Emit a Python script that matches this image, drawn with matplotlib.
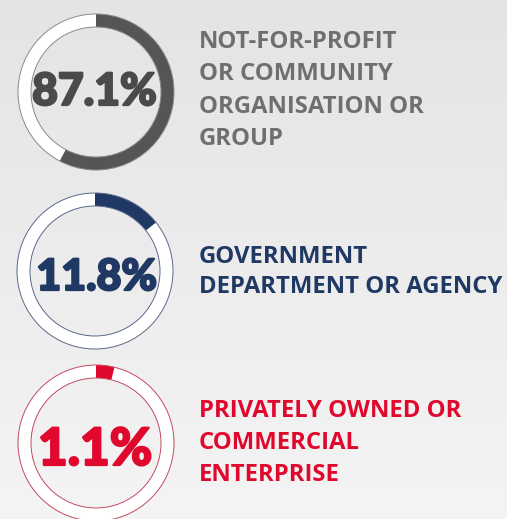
import numpy as np
import matplotlib
matplotlib.use("Agg")
import matplotlib.pyplot as plt
import matplotlib.patheffects as pe
from matplotlib.patches import Wedge, Circle
from matplotlib.colors import LinearSegmentedColormap

# ---- data ----
categories = ["NOT-FOR-PROFIT\nOR COMMUNITY\nORGANISATION OR\nGROUP",
              "GOVERNMENT\nDEPARTMENT OR AGENCY",
              "PRIVATELY OWNED OR\nCOMMERCIAL\nENTERPRISE"]
share_labels = ["87.1%", "11.8%", "1.1%"]
# ring fill as drawn in the reference (percent of the circle)
ring_arc_pct = [57.7, 14.3, 3.8]

# ---- styles ----
colors = ["#555555", "#1f3864", "#e0082d"]
text_colors = ["#6f6f6f", "#1f3864", "#e0082d"]
outline_colors = ["#8a8a8a", "#5a6888", "#c4495e"]
num_colors = ["#4a4a4a", "#1f3864", "#e0082d"]
centers = [(96, 92), (95, 271), (96, 443)]
num_sizes = [32, 31, 37]
num_x = [94.5, 96.5, 95]
num_baseline = [105, 290, 465]
label_baselines = [48.3, 262.7, 417.3]
label_step = [32.2, 30.6, 31.7]
R_OUT, WIDTH = 78, 13

W, H = 507, 519
fig = plt.figure(figsize=(W / 100, H / 100), dpi=100)
ax = fig.add_axes([0, 0, 1, 1])
ax.set_xlim(0, W)
ax.set_ylim(H, 0)
ax.axis("off")

cmap = LinearSegmentedColormap.from_list("bg", ["#e4e4e4", "#f4f4f4"])
grad = np.linspace(0, 1, 256).reshape(-1, 1)
ax.imshow(grad, cmap=cmap, extent=[0, W, H, 0], aspect="auto", zorder=0)

for i in range(3):
    cx, cy = centers[i]
    frac = ring_arc_pct[i] / 100.0
    ax.add_patch(Wedge((cx, cy), R_OUT, 0, 360, width=WIDTH,
                       facecolor="white", edgecolor="none", zorder=1))
    ax.add_patch(Wedge((cx, cy), R_OUT, -90, -90 + 360 * frac, width=WIDTH,
                       facecolor=colors[i], edgecolor="none", zorder=2))
    for r in (R_OUT, R_OUT - WIDTH):
        ax.add_patch(Circle((cx, cy), r, fill=False, edgecolor=outline_colors[i],
                            linewidth=0.7, zorder=3))
    ax.text(num_x[i], num_baseline[i], share_labels[i],
            ha="center", va="baseline", fontsize=num_sizes[i],
            family=["Lato", "DejaVu Sans"], fontweight=900,
            color=num_colors[i], zorder=4,
            path_effects=[pe.withStroke(linewidth=1.6, foreground=num_colors[i])])
    lines = categories[i].split("\n")
    for j, line in enumerate(lines):
        ax.text(199, label_baselines[i] + label_step[i] * j, line,
                ha="left", va="baseline",
                fontsize=17.2, family=["Open Sans", "DejaVu Sans"],
                fontweight="bold", color=text_colors[i], zorder=4)

fig.savefig("out.png", dpi=100)
